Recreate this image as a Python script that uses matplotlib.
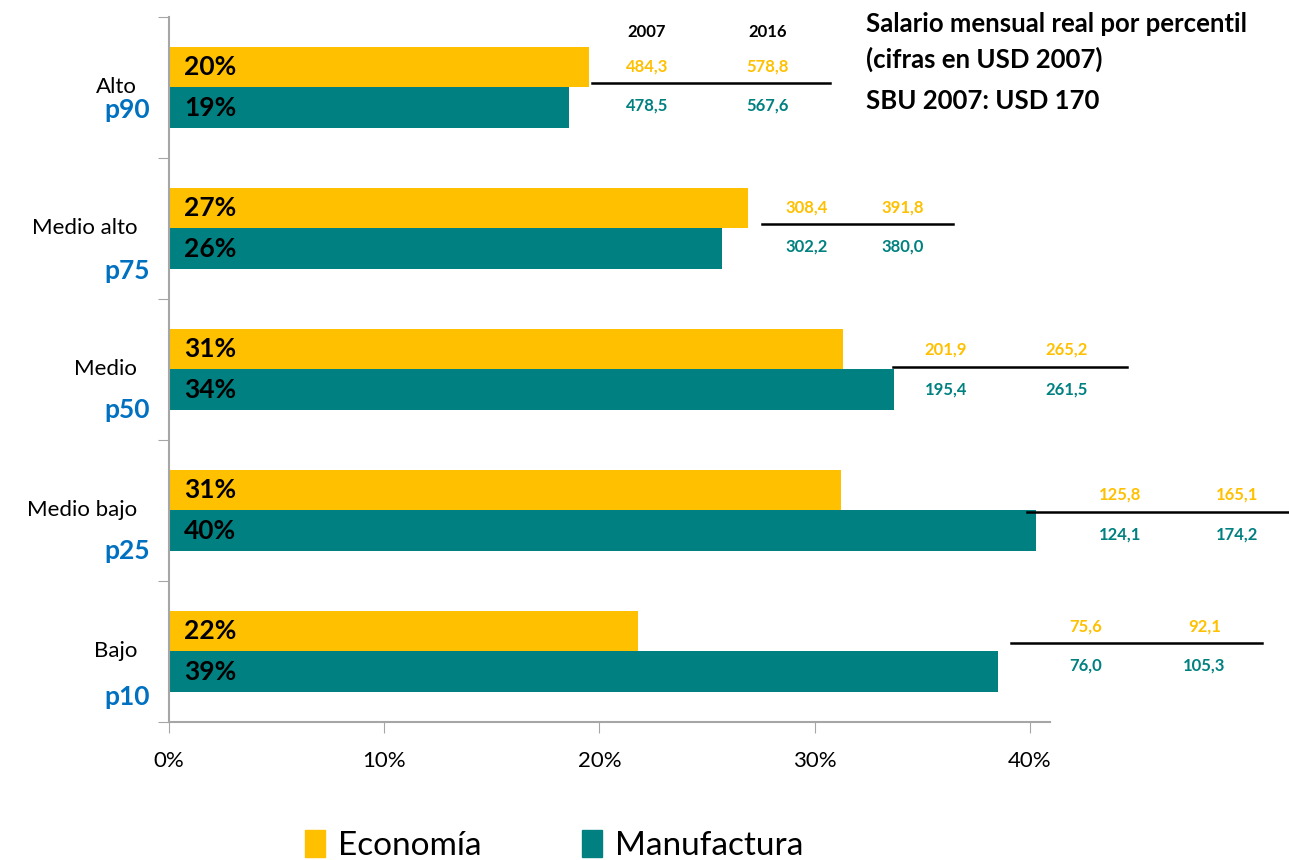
import numpy as np
import matplotlib.pyplot as plt
from matplotlib.patches import Patch

# data
niveles = ["Alto", "Medio alto", "Medio", "Medio bajo", "Bajo"]
percentiles = ["p90", "p75", "p50", "p25", "p10"]
economia = [19.5, 26.9, 31.3, 31.2, 21.8]
manufactura = [18.6, 25.7, 33.7, 40.3, 38.5]
economia_lbl = ["20%", "27%", "31%", "31%", "22%"]
manufactura_lbl = ["19%", "26%", "34%", "40%", "39%"]
sal_econ_2007 = ["484,3", "308,4", "201,9", "125,8", "75,6"]
sal_econ_2016 = ["578,8", "391,8", "265,2", "165,1", "92,1"]
sal_manu_2007 = ["478,5", "302,2", "195,4", "124,1", "76,0"]
sal_manu_2016 = ["567,6", "380,0", "261,5", "174,2", "105,3"]

# placement of the little wage tables (x in % units of the axis)
tab_line = [(19.65, 30.7), (27.55, 36.42), (33.64, 44.5), (39.86, 52.03), (39.12, 50.8)]
tab_x = [(22.2, 27.8), (29.6, 34.1), (36.1, 41.7), (44.2, 49.6), (42.6, 48.1)]
tab_dy = [-0.03, -0.03, -0.02, 0.01, -0.06]
pct_dy = [0.16, 0.30, 0.29, 0.29, 0.32]

AMARILLO = "#FFC000"
VERDE = "#008080"
AZUL = "#0070C0"
GRIS = "#A6A6A6"

plt.rcParams['font.family'] = ['Lato', 'DejaVu Sans']

fig = plt.figure(figsize=(12.89, 8.6), dpi=100)
ax = fig.add_axes([0.1311, 0.1605, 0.6835, 0.8198])

y = np.arange(len(niveles))
h = 0.285
ax.barh(y - h / 2, economia, height=h, color=AMARILLO)
ax.barh(y + h / 2, manufactura, height=h, color=VERDE)

for i in range(len(niveles)):
    ax.text(0.7, y[i] - h / 2, economia_lbl[i], ha='left', va='center',
            fontsize=19, fontweight='bold', color='black')
    ax.text(0.7, y[i] + h / 2, manufactura_lbl[i], ha='left', va='center',
            fontsize=19, fontweight='bold', color='black')

    # wage table
    x0, x1 = tab_line[i]
    ly = y[i] + tab_dy[i]
    ax.plot([x0, x1], [ly, ly], color='black', lw=1.8, clip_on=False)
    for xx, v in zip(tab_x[i], [sal_econ_2007[i], sal_econ_2016[i]]):
        ax.text(xx, ly - 0.12, v, ha='center', va='center', fontsize=12,
                fontweight='bold', color=AMARILLO, clip_on=False)
    for xx, v in zip(tab_x[i], [sal_manu_2007[i], sal_manu_2016[i]]):
        ax.text(xx, ly + 0.16, v, ha='center', va='center', fontsize=12,
                fontweight='bold', color=VERDE, clip_on=False)

    # category labels
    ax.text(-0.036, y[i] + 0.0, niveles[i], transform=ax.get_yaxis_transform(),
            ha='right', va='center', fontsize=16)
    ax.text(-0.022, y[i] + pct_dy[i], percentiles[i], transform=ax.get_yaxis_transform(),
            ha='right', va='center', fontsize=19, fontweight='bold', color=AZUL)

ax.text(tab_x[0][0], -0.39, "2007", ha='center', va='center', fontsize=12, fontweight='bold')
ax.text(tab_x[0][1], -0.39, "2016", ha='center', va='center', fontsize=12, fontweight='bold')

fig.text(0.672, 0.972, "Salario mensual real por percentil", ha='left', va='center',
         fontsize=18.5, fontweight='bold')
fig.text(0.672, 0.931, "(cifras en USD 2007)", ha='left', va='center',
         fontsize=18.5, fontweight='bold')
fig.text(0.672, 0.883, "SBU 2007: USD 170", ha='left', va='center',
         fontsize=18.5, fontweight='bold')

ax.set_ylim(4.5, -0.5)
ax.set_xlim(0, 40.93)
ax.set_xticks([0, 10, 20, 30, 40])
ax.set_xticklabels(["0%", "10%", "20%", "30%", "40%"], fontsize=16)
ax.set_yticks(np.arange(-0.5, 5, 1))
ax.set_yticklabels([])
ax.tick_params(axis='x', direction='out', length=8, color=GRIS, pad=13)
ax.tick_params(axis='y', direction='out', length=8, color=GRIS)
for s in ['top', 'right']:
    ax.spines[s].set_visible(False)
for s in ['left', 'bottom']:
    ax.spines[s].set_color(GRIS)
    ax.spines[s].set_linewidth(1.5)

handles = [Patch(color=AMARILLO, label="Economía"), Patch(color=VERDE, label="Manufactura")]
fig.legend(handles=handles, loc='center', bbox_to_anchor=(0.43, 0.017), ncol=2,
           frameon=False, fontsize=24, handlelength=0.6, handleheight=0.9,
           handletextpad=0.4, columnspacing=3.0)

fig.savefig("out.png", dpi=100)
